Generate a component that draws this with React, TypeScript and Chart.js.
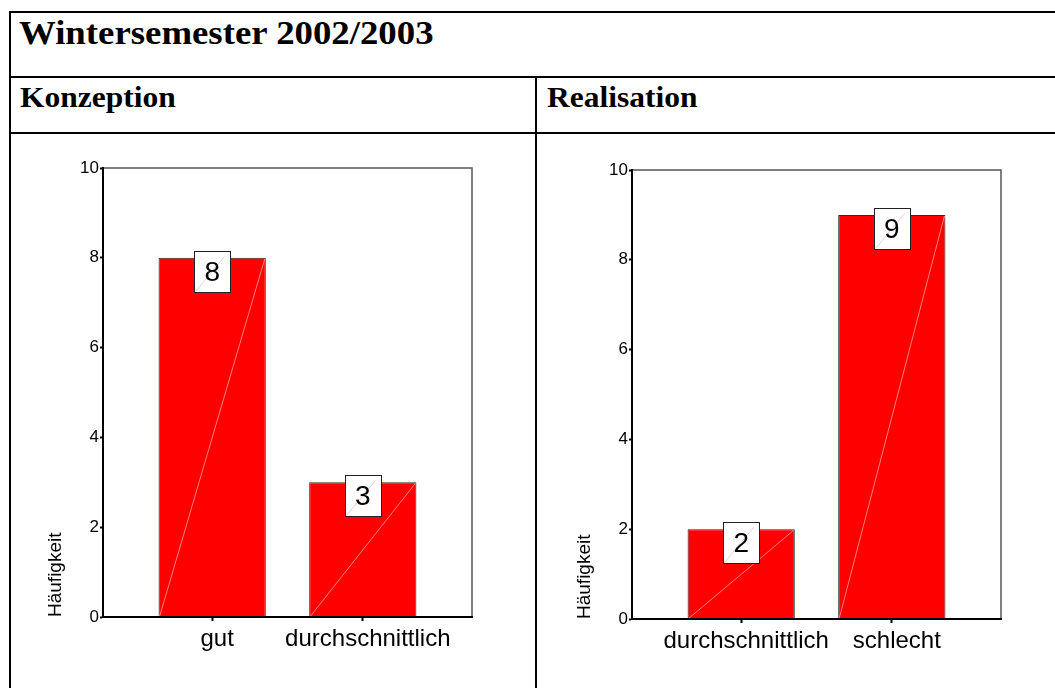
import React, { useEffect, useRef } from 'react';
import { Chart, registerables } from 'chart.js';

Chart.register(...registerables);

// ---- data ----
const pageTitle = 'Wintersemester 2002/2003';
const panelTitles = ['Konzeption', 'Realisation'];
const yAxisTitle = 'Häufigkeit';
const konzeptionCategories = ['gut', 'durchschnittlich'];
const konzeptionValues = [8, 3];
const realisationCategories = ['durchschnittlich', 'schlecht'];
const realisationValues = [2, 9];
const yTickValues = [0, 2, 4, 6, 8, 10];

const SANS = '"Liberation Sans", Arial, sans-serif';
const SERIF = '"Liberation Serif", "Times New Roman", serif';

const CANVAS_W = 510;
const CANVAS_H = 550;

function makeDecorPlugin(values: number[]) {
  return {
    id: 'decor',
    afterDatasetsDraw(chart: any) {
      const ctx = chart.ctx as CanvasRenderingContext2D;
      const meta = chart.getDatasetMeta(0);
      const a = chart.chartArea;
      ctx.save();
      // faint diagonals inside bars
      meta.data.forEach((bar: any) => {
        const p = bar.getProps(['x', 'y', 'base', 'width'], true);
        ctx.strokeStyle = 'rgba(255,175,175,0.9)';
        ctx.lineWidth = 0.8;
        ctx.beginPath();
        ctx.moveTo(p.x - p.width / 2 + 1, p.base);
        ctx.lineTo(p.x + p.width / 2 - 1, p.y + 1);
        ctx.stroke();
      });
      // top & right frame
      ctx.strokeStyle = '#555';
      ctx.lineWidth = 1.5;
      ctx.beginPath();
      ctx.moveTo(a.left, a.top);
      ctx.lineTo(a.right, a.top);
      ctx.lineTo(a.right, a.bottom);
      ctx.stroke();
      // value labels in boxes
      meta.data.forEach((bar: any, i: number) => {
        const p = bar.getProps(['x', 'y'], true);
        const bw = 36;
        const bh = 41;
        const bx = Math.round(p.x - bw / 2) + 0.5;
        const by = Math.round(p.y - 7) + 0.5;
        ctx.fillStyle = '#ffffff';
        ctx.fillRect(bx, by, bw, bh);
        ctx.strokeStyle = 'rgba(255,160,160,0.8)';
        ctx.lineWidth = 0.7;
        ctx.beginPath();
        ctx.moveTo(bx + 1, by + bh - 1);
        ctx.lineTo(bx + bw - 6, by + 5);
        ctx.stroke();
        ctx.strokeStyle = '#222';
        ctx.lineWidth = 1;
        ctx.strokeRect(bx, by, bw, bh);
        ctx.fillStyle = '#000';
        ctx.font = `28px ${SANS}`;
        ctx.textAlign = 'center';
        ctx.textBaseline = 'middle';
        ctx.fillText(String(values[i]), p.x, by + bh / 2 + 1);
      });
      ctx.restore();
    },
  };
}

function BarPanel({ categories, values, left, top }: { categories: string[]; values: number[]; left: number; top: number }) {
  const ref = useRef<HTMLCanvasElement>(null);
  useEffect(() => {
    const chart = new Chart(ref.current as HTMLCanvasElement, {
      type: 'bar',
      data: {
        datasets: [
          {
            data: values.map((v, i) => ({ x: i, y: v })),
            backgroundColor: '#ff0000',
            borderColor: '#2a2a2a',
            borderWidth: 1,
            barPercentage: 0.89,
            categoryPercentage: 0.8,
          } as any,
        ],
      },
      options: {
        animation: false,
        responsive: false,
        events: [],
        layout: { padding: { top: 32, right: 50, left: 0, bottom: 0 } },
        plugins: { legend: { display: false }, tooltip: { enabled: false } },
        scales: {
          x: {
            type: 'linear',
            min: -0.725,
            max: 1.725,
            offset: false,
            afterBuildTicks: (s: any) => {
              s.ticks = categories.map((_, i) => ({ value: i }));
            },
            afterFit: (s: any) => {
              s.height = 69;
            },
            grid: { offset: false, drawOnChartArea: false, drawTicks: true, tickLength: 4, tickWidth: 2, tickColor: '#000' },
            border: { display: true, color: '#000', width: 2, z: 1 },
            ticks: {
              autoSkip: false,
              maxRotation: 0,
              minRotation: 0,
              padding: 4,
              labelOffset: 5,
              color: '#000',
              font: { family: SANS, size: 24 },
              callback: (v: any) => categories[v as number],
            },
          } as any,
          y: {
            type: 'linear',
            min: 0,
            max: 10,
            afterBuildTicks: (s: any) => {
              s.ticks = yTickValues.map((v) => ({ value: v }));
            },
            afterFit: (s: any) => {
              s.width = 91;
            },
            grid: { drawOnChartArea: false, drawTicks: true, tickLength: 3, tickWidth: 2, tickColor: '#000' },
            border: { display: true, color: '#000', width: 2, z: 1 },
            ticks: { padding: 1, color: '#000', font: { family: SANS, size: 17 } },
            title: {
              display: true,
              text: yAxisTitle,
              align: 'start',
              color: '#000',
              font: { family: SANS, size: 19 },
              padding: { top: 32, bottom: 0 },
            },
          } as any,
        },
      },
      plugins: [makeDecorPlugin(values)],
    });
    return () => chart.destroy();
  }, []);
  return (
    <canvas
      ref={ref}
      width={CANVAS_W}
      height={CANVAS_H}
      style={{ position: 'absolute', left, top, width: CANVAS_W, height: CANVAS_H }}
    />
  );
}

const line = (left: number, top: number, width: number, height: number): React.CSSProperties => ({
  position: 'absolute',
  left,
  top,
  width,
  height,
  background: '#000',
});

const textStyle = (left: number, top: number, size: number, sx: number): React.CSSProperties => ({
  position: 'absolute',
  left,
  top,
  fontFamily: SERIF,
  fontWeight: 'bold',
  fontSize: size,
  lineHeight: `${Math.round(size)}px`,
  whiteSpace: 'nowrap',
  color: '#000',
  transform: `scaleX(${sx})`,
  transformOrigin: 'left top',
});

export default function App() {
  return (
    <div style={{ position: 'absolute', left: 0, top: 0, width: 1055, height: 688, overflow: 'hidden', background: '#fff' }}>
      {/* table lines */}
      <div style={line(9, 11, 1046, 2)} />
      <div style={line(9, 11, 2, 677)} />
      <div style={line(9, 76, 1046, 2)} />
      <div style={line(9, 132, 1046, 2)} />
      <div style={line(535, 76, 2, 612)} />
      {/* texts */}
      <div style={textStyle(19, 17, 33, 1.115)}>{pageTitle}</div>
      <div style={textStyle(20, 82, 30, 1.05)}>{panelTitles[0]}</div>
      <div style={textStyle(547, 82, 30, 1.05)}>{panelTitles[1]}</div>
      {/* charts */}
      <BarPanel categories={konzeptionCategories} values={konzeptionValues} left={12} top={136} />
      <BarPanel categories={realisationCategories} values={realisationValues} left={541} top={138} />
    </div>
  );
}
